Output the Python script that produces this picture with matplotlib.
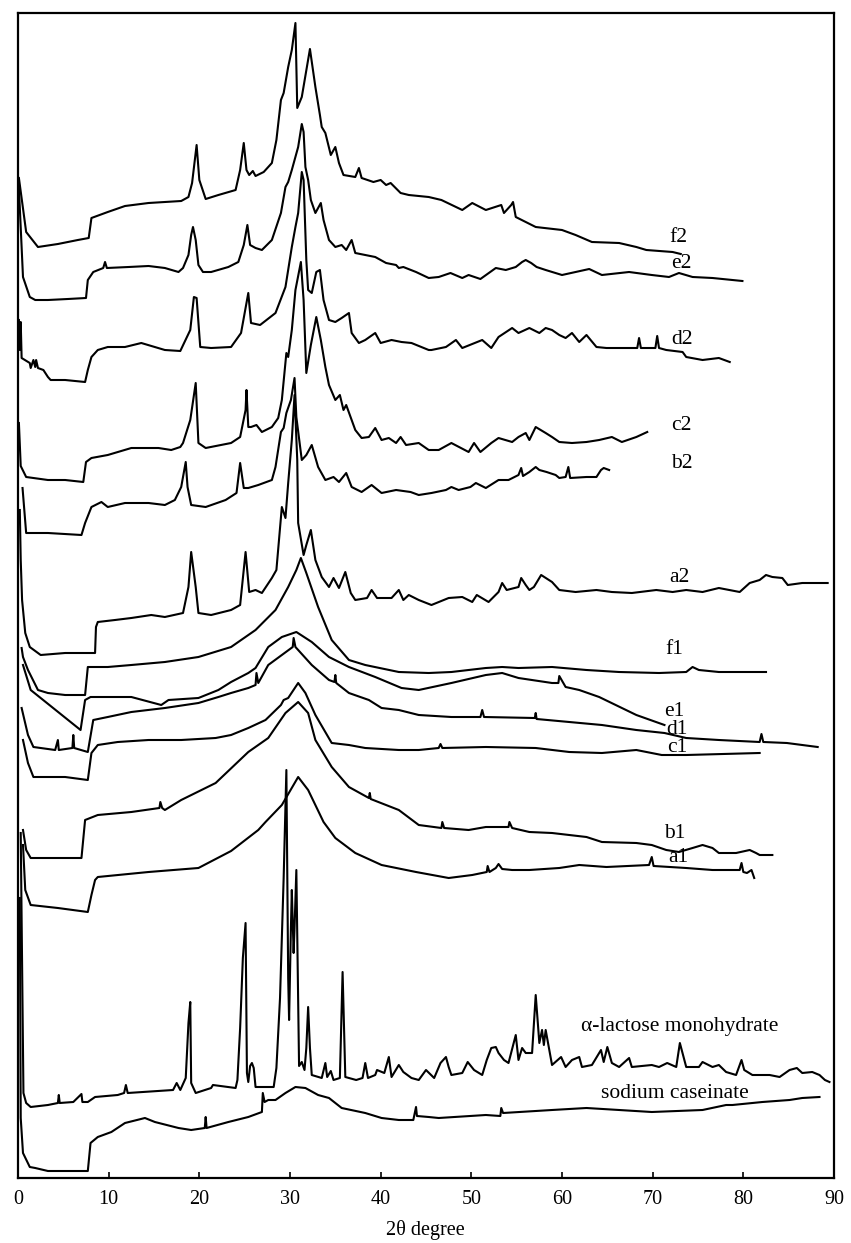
import matplotlib
matplotlib.use("Agg")
import matplotlib.pyplot as plt

plt.rcParams["font.family"] = ["Liberation Serif", "DejaVu Serif"]

# 2theta (deg), offset intensity (arb.)
f2 = [(0.1, 1000), (0.9, 946), (2.2, 931), (4.4, 934), (6.6, 938), (7.8, 940), (8.1, 960), (9.9, 966),
      (11.8, 972), (14.4, 975), (18.0, 977), (18.8, 981), (19.2, 995), (19.7, 1033), (20.0, 998), (20.7, 979),
      (22.1, 983), (24.0, 988), (24.5, 1008), (24.9, 1035), (25.2, 1008), (25.5, 1003), (25.9, 1007),
      (26.2, 1002), (27.1, 1006), (28.0, 1015), (28.5, 1038), (29.0, 1078), (29.3, 1085), (29.8, 1111),
      (30.2, 1128), (30.6, 1155), (30.8, 1070), (31.3, 1081), (32.2, 1129), (32.8, 1091), (33.3, 1063),
      (33.5, 1051), (33.9, 1045), (34.5, 1023), (35.0, 1031), (35.4, 1015), (35.9, 1003), (37.2, 1001),
      (37.6, 1010), (37.9, 1000), (39.2, 996), (40.0, 998), (40.6, 993), (41.1, 995), (42.2, 985),
      (43.1, 983), (45.3, 981), (46.7, 978), (49.0, 968), (50.1, 975), (51.6, 968), (53.3, 973), (53.6, 965),
      (54.4, 973), (54.6, 976), (54.9, 961), (56.0, 956), (57.1, 951), (60.0, 948), (61.5, 943), (63.3, 936),
      (66.3, 935), (68.2, 931), (69.3, 928), (72.2, 926), (73.1, 924)]

e2 = [(0.1, 990), (0.55, 901), (1.3, 881), (1.9, 878), (3.3, 878), (5.5, 879), (7.5, 880), (7.7, 898),
      (8.3, 906), (9.4, 910), (9.6, 916), (9.8, 910), (12.2, 911), (14.4, 912), (16.2, 910), (17.7, 906),
      (18.2, 910), (18.8, 923), (19.1, 943), (19.3, 951), (19.6, 938), (19.9, 913), (20.4, 906), (21.3, 906),
      (23.2, 911), (24.3, 916), (24.9, 933), (25.3, 953), (25.6, 933), (26.2, 930), (26.9, 928), (28.0, 938),
      (29.0, 965), (29.5, 991), (29.8, 996), (30.2, 1008), (30.9, 1031), (31.3, 1054), (31.5, 1046),
      (31.7, 1011), (32.0, 998), (32.3, 978), (32.8, 965), (33.4, 975), (33.7, 958), (34.3, 938), (35.0, 931),
      (35.7, 933), (36.2, 928), (36.8, 938), (37.2, 925), (39.4, 921), (40.6, 915), (41.7, 913), (42.0, 910),
      (42.5, 911), (43.9, 906), (45.3, 900), (46.4, 901), (47.7, 905), (49.0, 900), (49.7, 903), (51.0, 899),
      (52.7, 910), (53.8, 908), (54.9, 911), (55.6, 916), (56.0, 918), (56.6, 915), (57.2, 911), (58.2, 908),
      (60.0, 903), (61.5, 906), (63.0, 909), (64.4, 903), (67.4, 906), (69.9, 903), (71.8, 901), (72.9, 905),
      (74.4, 901), (76.6, 900), (78.8, 898), (79.9, 897)]

d2 = [(0.1, 858), (0.2, 828), (0.3, 856), (0.4, 820), (1.3, 815), (1.4, 810), (1.7, 818), (1.9, 811),
      (2.0, 818), (2.2, 810), (2.8, 808), (3.3, 801), (3.6, 798), (5.2, 798), (7.4, 796), (7.7, 808),
      (8.1, 821), (8.8, 828), (9.9, 831), (11.8, 831), (13.6, 835), (16.2, 828), (17.9, 827), (19.0, 848),
      (19.4, 881), (19.7, 880), (20.1, 831), (21.3, 830), (23.5, 831), (24.6, 845), (25.4, 885), (25.7, 855),
      (26.7, 853), (28.4, 865), (29.5, 891), (30.2, 931), (30.6, 951), (30.9, 965), (31.3, 1006), (31.5, 998),
      (31.8, 918), (32.0, 888), (32.4, 885), (32.9, 906), (33.3, 908), (33.7, 878), (34.3, 858), (35.0, 856),
      (35.7, 860), (36.5, 865), (36.8, 845), (37.6, 835), (38.3, 838), (39.4, 845), (40.0, 835), (41.2, 838),
      (42.3, 836), (43.4, 835), (45.3, 828), (45.6, 828), (47.2, 831), (48.3, 838), (49.0, 830), (51.2, 838),
      (52.2, 830), (53.0, 841), (54.5, 850), (55.2, 845), (56.4, 850), (57.5, 845), (58.2, 850), (58.9, 848),
      (59.7, 843), (60.4, 840), (61.1, 845), (61.9, 836), (62.7, 843), (63.8, 831), (64.9, 830), (66.3, 830),
      (68.3, 830), (68.5, 840), (68.7, 830), (70.3, 830), (70.5, 842), (70.7, 830), (71.5, 828), (73.3, 826),
      (73.7, 821), (75.5, 818), (77.3, 820), (78.5, 816)]

c2 = [(0.1, 755), (0.3, 712), (0.9, 701), (3.3, 698), (5.2, 698), (7.2, 696), (7.5, 716), (8.1, 720),
      (9.9, 723), (12.5, 730), (15.5, 730), (16.9, 728), (17.9, 731), (18.2, 735), (19.0, 758), (19.6, 795),
      (19.9, 735), (20.7, 730), (23.5, 735), (24.5, 741), (25.1, 768), (25.2, 788), (25.4, 751), (25.7, 751),
      (26.3, 753), (26.9, 746), (28.0, 751), (28.7, 760), (29.1, 778), (29.6, 825), (29.8, 821), (30.2, 848),
      (30.6, 888), (31.2, 916), (31.5, 878), (31.8, 805), (32.3, 833), (32.9, 861), (33.4, 838), (33.9, 811),
      (34.3, 793), (35.0, 778), (35.5, 783), (35.9, 768), (36.2, 773), (37.2, 748), (37.9, 740), (38.7, 741),
      (39.4, 750), (40.1, 738), (40.9, 740), (41.7, 735), (42.2, 741), (42.8, 733), (44.2, 735), (45.3, 728),
      (46.4, 728), (47.8, 735), (49.7, 726), (50.3, 735), (51.0, 726), (52.2, 735), (53.0, 740), (54.5, 736),
      (55.2, 741), (56.0, 745), (56.4, 738), (57.1, 751), (58.2, 745), (58.9, 741), (59.7, 736), (61.1, 735),
      (62.7, 736), (64.1, 738), (65.5, 741), (66.6, 736), (68.2, 741), (69.4, 746)]

b2 = [(0.5, 690), (0.9, 645), (1.3, 645), (3.3, 645), (7.0, 643), (7.4, 655), (8.1, 671), (9.2, 676),
      (9.9, 671), (11.8, 675), (14.4, 675), (16.2, 673), (17.3, 678), (18.0, 691), (18.5, 716), (18.7, 691),
      (19.1, 673), (20.7, 671), (22.9, 678), (24.1, 685), (24.5, 715), (24.9, 690), (25.4, 690), (26.5, 693),
      (28.0, 698), (28.4, 711), (29.0, 746), (29.3, 750), (29.6, 765), (30.1, 778), (30.5, 800), (30.7, 761),
      (31.3, 718), (31.8, 723), (32.4, 733), (33.1, 711), (33.9, 698), (34.8, 701), (35.4, 696), (36.2, 705),
      (36.8, 691), (37.9, 686), (39.0, 693), (40.1, 685), (41.7, 688), (43.3, 686), (44.2, 683), (45.6, 685),
      (47.2, 688), (47.8, 691), (48.6, 688), (49.9, 691), (50.5, 695), (51.6, 690), (53.0, 698), (54.1, 698),
      (55.2, 703), (55.5, 710), (55.7, 702), (56.4, 706), (57.1, 711), (57.5, 708), (58.3, 706), (59.3, 703),
      (59.7, 700), (60.4, 701), (60.7, 711), (60.9, 700), (62.7, 701), (63.8, 701), (64.3, 708), (64.6, 710),
      (65.2, 708)]

a2 = [(0.2, 668), (0.3, 618), (0.45, 578), (0.8, 545), (1.3, 531), (2.5, 523), (5.2, 525), (7.7, 525),
      (8.5, 525), (8.6, 551), (8.8, 556), (10.7, 558), (12.5, 560), (14.7, 563), (16.2, 561), (18.2, 565),
      (18.8, 591), (19.1, 626), (19.6, 591), (19.9, 565), (21.3, 563), (23.5, 568), (24.5, 573), (25.1, 626),
      (25.5, 586), (26.2, 588), (26.9, 585), (28.0, 600), (28.5, 608), (29.1, 671), (29.5, 660), (29.8, 695),
      (30.2, 738), (30.5, 783), (30.8, 718), (30.9, 655), (31.5, 623), (31.8, 633), (32.3, 648), (32.8, 618),
      (33.5, 601), (34.3, 591), (34.8, 600), (35.4, 590), (36.1, 606), (36.7, 585), (37.2, 578), (38.5, 580),
      (39.0, 588), (39.6, 580), (41.2, 580), (42.0, 588), (42.5, 578), (43.1, 583), (44.2, 578), (45.6, 573),
      (47.5, 580), (49.0, 581), (50.1, 576), (50.6, 583), (51.9, 576), (53.0, 586), (53.4, 595), (53.9, 588),
      (55.2, 591), (55.5, 600), (56.0, 593), (56.4, 588), (56.9, 591), (57.7, 603), (58.9, 596), (59.7, 588),
      (61.5, 586), (63.8, 588), (65.5, 586), (67.7, 585), (70.4, 588), (72.2, 586), (73.7, 588), (75.5, 586),
      (77.3, 590), (79.6, 586), (80.7, 595), (81.8, 598), (82.5, 603), (83.2, 601), (84.3, 600), (84.9, 593),
      (86.5, 595), (89.3, 595)]

f1 = [(0.4, 530), (0.55, 521), (1.1, 508), (2.2, 488), (3.3, 485), (5.2, 483), (7.4, 483), (7.7, 511),
      (8.3, 511), (9.9, 511), (12.5, 513), (16.2, 516), (19.9, 521), (23.5, 531), (26.2, 548), (28.4, 568),
      (29.8, 591), (30.7, 608), (31.2, 620), (31.8, 605), (33.1, 571), (34.6, 538), (36.5, 518), (38.3, 513),
      (42.0, 506), (45.3, 505), (47.8, 506), (51.6, 510), (53.4, 511), (55.2, 510), (58.9, 511), (62.7, 508),
      (66.3, 506), (70.7, 505), (73.7, 506), (74.4, 511), (75.1, 508), (77.3, 506), (82.5, 506)]

e1 = [(0.55, 513), (1.4, 488), (6.9, 448), (7.4, 478), (8.0, 481), (9.9, 481), (12.5, 481), (15.8, 473),
      (16.6, 478), (19.9, 480), (22.1, 488), (23.5, 496), (25.4, 505), (26.2, 510), (27.6, 531), (29.1, 541),
      (30.7, 546), (32.4, 536), (34.3, 521), (36.5, 511), (39.4, 501), (42.3, 490), (44.2, 488), (47.8, 495),
      (51.6, 503), (53.4, 505), (55.2, 500), (58.9, 495), (59.6, 495), (59.7, 502), (60.4, 491), (61.9, 488),
      (64.1, 481), (68.2, 463), (71.3, 453)]

d1 = [(0.4, 470), (1.1, 443), (1.7, 431), (4.1, 428), (4.4, 438), (4.5, 428), (6.0, 430), (6.1, 443),
      (6.2, 430), (7.7, 426), (8.3, 458), (9.9, 461), (12.5, 466), (16.2, 470), (19.9, 475), (22.1, 481),
      (23.5, 485), (25.4, 490), (26.2, 493), (26.3, 505), (26.5, 495), (27.6, 513), (29.1, 523), (30.3, 531),
      (30.4, 540), (30.6, 531), (32.4, 513), (34.3, 498), (34.9, 496), (35.0, 503), (35.1, 495), (36.5, 485),
      (38.7, 478), (40.1, 470), (42.0, 468), (44.2, 463), (47.8, 461), (51.0, 461), (51.2, 468), (51.4, 461),
      (57.0, 460), (57.1, 465), (57.2, 459), (60.8, 456), (64.4, 453), (68.2, 448), (71.3, 445), (73.7, 440),
      (77.3, 438), (81.8, 436), (82.0, 444), (82.2, 436), (84.8, 435), (88.2, 431)]

c1 = [(0.55, 438), (1.1, 415), (1.7, 401), (5.2, 401), (7.7, 398), (8.1, 425), (8.8, 433), (11.0, 436),
      (14.4, 438), (18.0, 438), (21.8, 440), (23.5, 443), (25.4, 450), (27.3, 458), (29.0, 473), (29.3, 478),
      (29.8, 480), (30.9, 495), (31.7, 485), (32.8, 463), (34.6, 435), (36.5, 433), (38.3, 430), (42.0, 428),
      (44.2, 428), (46.4, 430), (46.6, 434), (46.8, 430), (51.6, 431), (57.1, 430), (60.8, 426), (64.4, 425),
      (68.2, 428), (71.0, 423), (73.7, 423), (81.8, 425)]

b1 = [(0.55, 348), (0.9, 328), (1.4, 320), (7.0, 320), (7.4, 358), (8.8, 363), (12.5, 366), (15.6, 370),
      (15.7, 376), (15.9, 370), (16.2, 368), (18.0, 378), (21.8, 395), (25.4, 426), (27.6, 440), (29.5, 465),
      (30.9, 476), (32.0, 465), (32.8, 438), (34.6, 411), (36.5, 391), (38.7, 380), (38.8, 385), (38.9, 379),
      (42.0, 368), (44.2, 353), (46.7, 350), (46.8, 356), (47.0, 350), (49.7, 348), (51.6, 351), (54.1, 351),
      (54.2, 356), (54.5, 350), (56.4, 346), (58.9, 345), (62.7, 341), (64.4, 336), (68.2, 335), (69.9, 333),
      (71.5, 328), (72.9, 326), (74.4, 330), (75.5, 333), (76.6, 330), (77.3, 325), (79.2, 325), (80.7, 328),
      (81.4, 325), (81.8, 323), (83.2, 323)]

a1 = [(0.55, 333), (0.8, 288), (1.4, 273), (4.4, 270), (7.7, 266), (8.1, 283), (8.5, 298), (8.8, 301),
      (14.4, 306), (19.9, 310), (23.5, 327), (26.5, 348), (27.3, 356), (29.1, 373), (30.9, 401), (32.0, 388),
      (33.7, 356), (35.0, 340), (37.2, 325), (40.1, 313), (43.9, 306), (47.5, 300), (50.1, 303), (51.7, 306),
      (51.8, 312), (52.0, 306), (52.7, 310), (53.0, 314), (53.4, 309), (54.5, 308), (56.4, 308), (59.7, 310),
      (61.9, 313), (64.9, 311), (69.6, 313), (69.9, 321), (70.1, 312), (73.7, 310), (76.6, 308), (79.6, 308),
      (79.8, 315), (80.0, 306), (80.4, 305), (80.9, 308), (81.2, 300)]

lactose = [(0.3, 345), (0.6, 85), (0.9, 75), (1.4, 71), (3.3, 73), (4.4, 75), (4.5, 83), (4.6, 75),
           (6.1, 76), (7.0, 84), (7.1, 76), (7.7, 76), (8.5, 81), (11.0, 83), (11.7, 85), (11.9, 93),
           (12.1, 85), (15.5, 87), (17.1, 88), (17.5, 95), (17.9, 88), (18.5, 100), (18.8, 155), (19.0, 176),
           (19.1, 95), (19.6, 85), (21.3, 90), (21.5, 93), (24.0, 90), (24.2, 98), (24.5, 150), (24.8, 220),
           (25.1, 255), (25.25, 105), (25.4, 96), (25.6, 112), (25.8, 115), (26.0, 110), (26.2, 91), (28.2, 91),
           (28.5, 110), (28.9, 180), (29.3, 300), (29.6, 408), (29.8, 200), (29.9, 158), (30.1, 250),
           (30.2, 288), (30.4, 225), (30.5, 250), (30.7, 308), (30.9, 180), (31.0, 112), (31.3, 116),
           (31.6, 108), (31.8, 130), (32.0, 171), (32.2, 130), (32.4, 103), (33.5, 100), (33.9, 115),
           (34.1, 101), (34.5, 107), (34.8, 98), (35.5, 100), (35.8, 206), (36.1, 101), (37.3, 98), (38.0, 100),
           (38.3, 115), (38.6, 100), (39.4, 103), (39.6, 108), (40.4, 105), (40.9, 121), (41.2, 101),
           (42.0, 113), (42.5, 106), (43.4, 100), (44.2, 98), (45.0, 108), (45.9, 100), (46.6, 115),
           (47.2, 121), (47.5, 111), (47.8, 103), (49.0, 105), (49.6, 116), (50.3, 108), (51.2, 103),
           (51.7, 118), (52.2, 130), (52.7, 131), (53.0, 125), (53.6, 118), (54.1, 115), (54.9, 143),
           (55.2, 118), (55.6, 130), (56.0, 125), (56.7, 125), (57.1, 183), (57.5, 135), (57.8, 148),
           (58.0, 133), (58.2, 148), (58.6, 128), (58.9, 113), (59.9, 121), (60.4, 111), (61.1, 118),
           (61.9, 121), (62.2, 111), (63.3, 113), (64.3, 128), (64.6, 116), (65.0, 131), (65.5, 115),
           (66.3, 111), (67.4, 120), (67.7, 111), (69.9, 113), (70.7, 111), (71.6, 115), (72.6, 111),
           (73.0, 135), (73.7, 111), (75.1, 111), (75.5, 116), (76.6, 111), (77.3, 113), (78.1, 106),
           (79.2, 103), (79.8, 118), (80.1, 108), (81.0, 103), (82.9, 103), (84.0, 101), (85.1, 108),
           (85.9, 110), (86.5, 105), (87.6, 106), (88.4, 103), (89.0, 98), (89.5, 96)]

caseinate = [(0.2, 280), (0.3, 60), (0.55, 25), (1.3, 11), (1.9, 10), (3.3, 7), (7.7, 7), (8.0, 35),
             (8.8, 41), (10.3, 46), (11.8, 55), (14.0, 60), (15.1, 56), (17.7, 50), (19.1, 48), (20.6, 50),
             (20.7, 61), (20.8, 50), (23.2, 56), (25.4, 61), (26.9, 66), (27.0, 85), (27.2, 76), (27.6, 78),
             (28.4, 78), (29.5, 85), (30.6, 91), (31.7, 90), (33.1, 83), (34.3, 80), (35.7, 70), (38.3, 65),
             (40.1, 60), (42.0, 58), (43.6, 58), (43.9, 71), (44.0, 62), (45.3, 61), (46.4, 60), (51.6, 63),
             (53.2, 62), (53.3, 70), (53.5, 65), (58.9, 68), (62.7, 70), (66.3, 68), (69.9, 66), (75.5, 68),
             (78.1, 73), (78.8, 73), (82.1, 76), (85.1, 78), (86.5, 80), (88.4, 81)]

traces = [f2, e2, d2, c2, b2, a2, f1, e1, d1, c1, b1, a1, lactose, caseinate]
names = ["f2", "e2", "d2", "c2", "b2", "a2", "f1", "e1", "d1", "c1", "b1", "a1",
         "α-lactose monohydrate", "sodium caseinate"]
name_x = [72.8, 73.2, 73.2, 73.2, 73.2, 73.0, 72.4, 72.4, 72.7, 72.7, 72.4, 72.8, 73.0, 72.4]
name_y = [941, 915, 838, 753, 715, 601, 528, 467, 449, 431, 345, 320, 151, 85]

fig = plt.figure(figsize=(8.51, 12.43), dpi=100)
ax = fig.add_axes([18 / 851, 65 / 1243, 816 / 851, 1165 / 1243])

for tr in traces:
    xs = [p[0] for p in tr]
    ys = [p[1] for p in tr]
    ax.plot(xs, ys, color="black", lw=1.5)

for nm, tx, ty in zip(names, name_x, name_y):
    ax.text(tx, ty, nm, ha="center", va="center", fontsize=15.5)

ax.set_xlim(0, 90)
ax.set_ylim(0, 1165)
ax.set_xticks(range(0, 91, 10))
ax.set_yticks([])
ax.tick_params(axis="x", direction="in", length=4, width=1.2, labelsize=14.5, pad=9)
for s in ax.spines.values():
    s.set_linewidth(1.6)

ax.set_xlabel("2θ degree", fontsize=14.5)
ax.xaxis.label.set_va("center")
ax.xaxis.set_label_coords(0.499, -0.045)

plt.savefig("out.png", dpi=100)
